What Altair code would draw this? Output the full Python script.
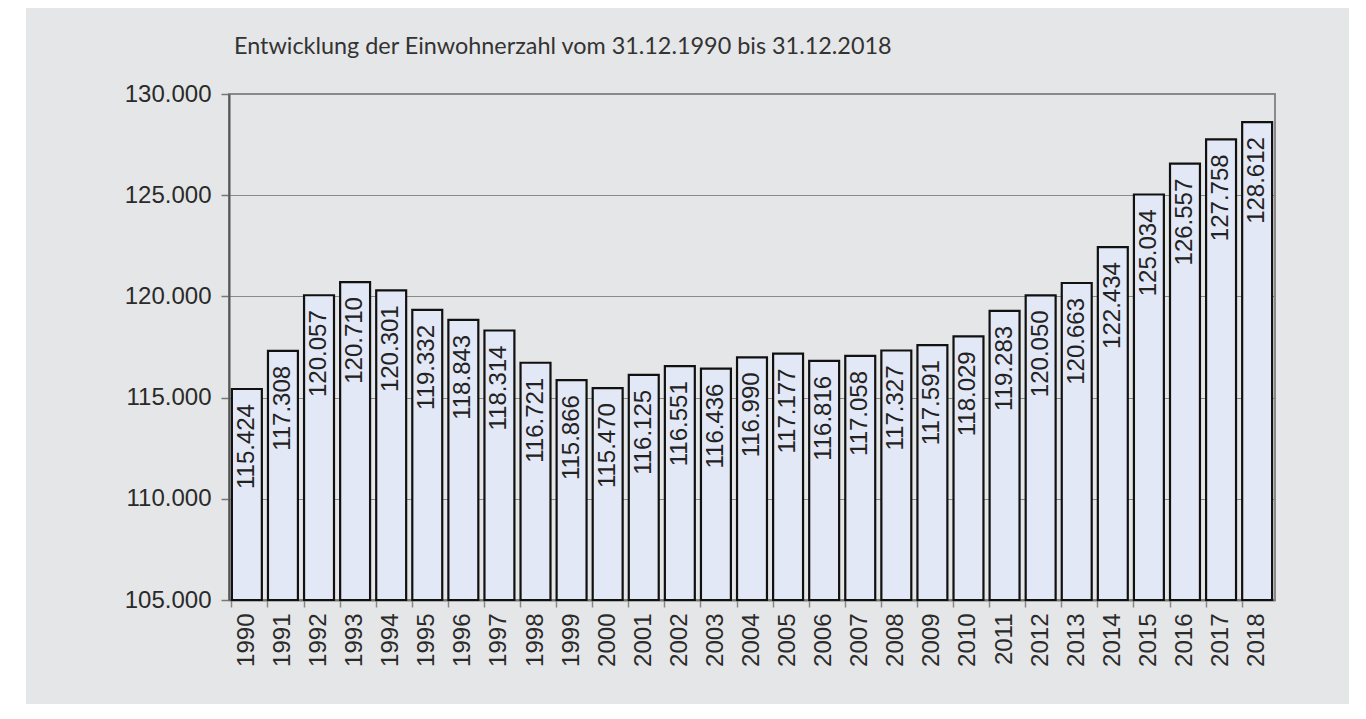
import altair as alt
import pandas as pd

years = [str(y) for y in range(1990, 2019)]
values = [115424, 117308, 120057, 120710, 120301, 119332, 118843, 118314, 116721,
          115866, 115470, 116125, 116551, 116436, 116990, 117177, 116816, 117058,
          117327, 117591, 118029, 119283, 120050, 120663, 122434, 125034, 126557,
          127758, 128612]
title_text = "Entwicklung der Einwohnerzahl vom 31.12.1990 bis 31.12.2018"
y_ticks = [105000, 110000, 115000, 120000, 125000, 130000]
y_min, y_max = 105000, 130000

df = pd.DataFrame({"Jahr": years, "Einwohner": values})

W, H = 1046, 506
GRAY = "#e5e6e7"

base = alt.Chart(df)

x_enc = alt.X("Jahr:N", sort=years,
              scale=alt.Scale(paddingInner=0.17, paddingOuter=0.08),
              axis=alt.Axis(title=None, labelAngle=270, labelFont="Liberation Sans",
                            labelFontSize=24, labelColor="#2a2a2a", labelPadding=6,
                            tickSize=7, tickColor="#888", tickWidth=1.5,
                            bandPosition=0, domainColor="#777", domainWidth=2,
                            grid=False))
y_enc = alt.Y("Einwohner:Q",
              scale=alt.Scale(domain=[y_min, y_max], nice=False, zero=False),
              axis=alt.Axis(title=None, values=y_ticks, labelFont="Liberation Sans",
                            labelFontSize=24, labelColor="#2a2a2a", labelPadding=10,
                            labelExpr="replace(format(datum.value, ','), ',', '.')",
                            tickSize=8, tickColor="#777", tickWidth=1.5,
                            domainColor="#555", domainWidth=2,
                            grid=True, gridColor="#8a8a8a", gridWidth=1.2))

bars = base.mark_bar(fill="#e2e8f5", stroke="#111", strokeWidth=2.2).encode(
    x=x_enc, y=y_enc, y2=alt.Y2(datum=y_min)
)

labels = base.transform_calculate(
    lab="replace(format(datum.Einwohner, ','), ',', '.')"
).mark_text(angle=270, align="right", baseline="middle", dx=-15,
            font="Liberation Sans", fontSize=24, color="#222").encode(
    x=alt.X("Jahr:N", sort=years), y="Einwohner:Q", text="lab:N"
)

white_strip = alt.Chart(pd.DataFrame({"a": [0]})).mark_rect(color="white").encode(
    x=alt.value(-221), x2=alt.value(-203), y=alt.value(-86), y2=alt.value(H + 104)
)

title = alt.Chart(pd.DataFrame({"t": [title_text]})).mark_text(
    align="left", baseline="alphabetic", font="Lato", fontSize=23.4, color="#333"
).encode(x=alt.value(5), y=alt.value(-40), text="t:N")

chart = alt.layer(white_strip, bars, labels, title).properties(
    width=W, height=H,
    background=GRAY,
    padding={"left": 221, "top": 86, "right": 74, "bottom": 104},
    autosize=alt.AutoSizeParams(type="none"),
).configure_view(stroke="#8a8a8a", strokeWidth=2)

chart.save("out.html", embed_options={"renderer": "svg", "actions": False})
